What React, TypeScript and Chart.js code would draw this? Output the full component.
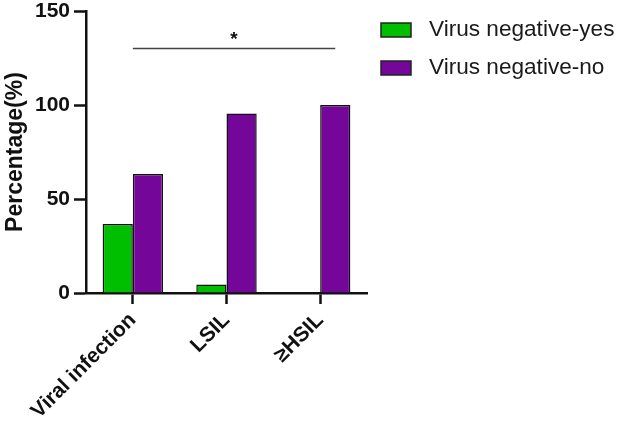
import React, { useEffect, useRef } from 'react';
import { Chart, registerables } from 'chart.js';
Chart.register(...registerables);

const categories = ['Viral infection', 'LSIL', '≥HSIL'];
const seriesNames = ['Virus negative-yes', 'Virus negative-no'];
const yesValues = [36.7, 4.5, 0];
const noValues = [63.3, 95.5, 100];
const yTicks = [0, 50, 100, 150];
const sigFromIndex = 0;
const sigToIndex = 2;
const sigValue = 130;
const sigLabel = '*';

const FONT = "'Liberation Sans', Arial, Helvetica, sans-serif";
const colors = ['#00BF00', '#74069A'];

const sigPlugin = {
  id: 'sigPlugin',
  afterDatasetsDraw(chart: any) {
    const ctx = chart.ctx;
    const xs = chart.scales.x;
    const ys = chart.scales.y;
    const x1 = xs.getPixelForValue(sigFromIndex);
    const x2 = chart.getDatasetMeta(1).data[sigToIndex].x;
    const y = ys.getPixelForValue(sigValue);
    ctx.save();
    ctx.strokeStyle = '#444';
    ctx.lineWidth = 1.5;
    ctx.beginPath();
    ctx.moveTo(x1, y);
    ctx.lineTo(x2, y);
    ctx.stroke();
    ctx.fillStyle = '#111';
    ctx.font = `bold 19px ${FONT}`;
    ctx.textAlign = 'center';
    ctx.textBaseline = 'middle';
    ctx.fillText(sigLabel, (x1 + x2) / 2, y - 9);
    ctx.restore();
  },
};

const legendPlugin = {
  id: 'customLegend',
  afterDraw(chart: any) {
    const ctx = chart.ctx;
    const left = chart.chartArea.right + 14;
    ctx.save();
    chart.data.datasets.forEach((ds: any, i: number) => {
      const top = 23 + i * 38;
      ctx.fillStyle = ds.backgroundColor;
      ctx.fillRect(left, top, 30, 14);
      ctx.strokeStyle = '#222';
      ctx.lineWidth = 1.5;
      ctx.strokeRect(left, top, 30, 14);
      ctx.fillStyle = '#1a1a1a';
      ctx.font = `22.6px ${FONT}`;
      ctx.textAlign = 'left';
      ctx.textBaseline = 'middle';
      ctx.fillText(ds.label, left + 48, top + 7);
    });
    ctx.restore();
  },
};

export default function App() {
  const ref = useRef<HTMLCanvasElement>(null);
  useEffect(() => {
    document.body.style.margin = '0';
    const chart = new Chart(ref.current as HTMLCanvasElement, {
      type: 'bar',
      data: {
        labels: categories,
        datasets: [
          { label: seriesNames[0], data: yesValues, backgroundColor: colors[0] },
          { label: seriesNames[1], data: noValues, backgroundColor: colors[1] },
        ].map((d) => ({
          ...d,
          borderColor: '#111',
          borderWidth: 1.5,
          categoryPercentage: 0.645,
          barPercentage: 1,
        })),
      },
      options: {
        animation: false,
        responsive: false,
        maintainAspectRatio: false,
        layout: { padding: { left: 0, top: 11, right: 253, bottom: 0 } },
        plugins: { legend: { display: false }, tooltip: { enabled: false } },
        scales: {
          x: {
            grid: {
              offset: false,
              drawOnChartArea: false,
              drawTicks: true,
              tickLength: 11,
              tickWidth: 2.5,
              tickColor: '#111',
            },
            border: { color: '#111', width: 2.5 },
            ticks: {
              color: '#111',
              font: { family: FONT, size: 21, weight: 'bold' },
              minRotation: 45,
              maxRotation: 45,
              padding: 4,
            },
            afterFit(scale: any) {
              scale.height = 425 - 293;
            },
          },
          y: {
            min: 0,
            max: 150,
            afterBuildTicks(scale: any) {
              scale.ticks = yTicks.map((v) => ({ value: v }));
            },
            grid: {
              drawOnChartArea: false,
              drawTicks: true,
              tickLength: 12,
              tickWidth: 2.5,
              tickColor: '#111',
            },
            border: { color: '#111', width: 2.5 },
            ticks: {
              color: '#111',
              font: { family: FONT, size: 21, weight: 'bold', lineHeight: 0.9 },
              padding: 4,
            },
            title: {
              display: true,
              text: 'Percentage(%)',
              color: '#111',
              font: { family: FONT, size: 23, weight: 'bold' },
              padding: { top: 2, bottom: 0 },
            },
            afterFit(scale: any) {
              scale.width = 86;
              scale.paddingTop = 0;
            },
          },
        },
      },
      plugins: [sigPlugin, legendPlugin],
    });
    return () => chart.destroy();
  }, []);
  return (
    <div style={{ width: 620, height: 425, background: '#fff' }}>
      <canvas ref={ref} width={620} height={425} />
    </div>
  );
}
